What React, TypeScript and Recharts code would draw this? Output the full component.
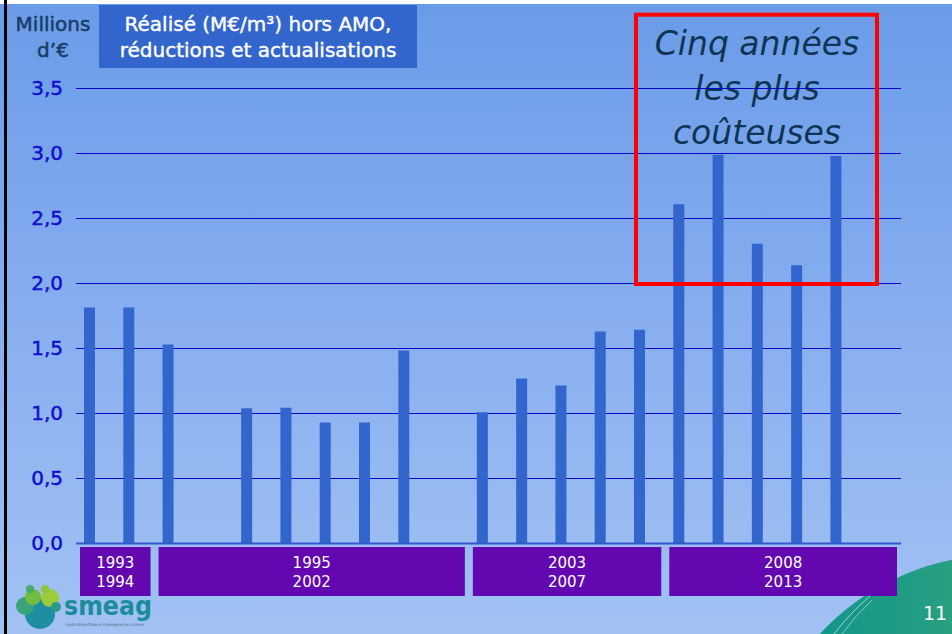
import React from 'react';
import { BarChart, Bar, XAxis, YAxis, CartesianGrid } from 'recharts';

const years = ['1993', '1994', '1995', '1996', '1997', '1998', '1999', '2000', '2001', '2002', '2003', '2004', '2005', '2006', '2007', '2008', '2009', '2010', '2011', '2012', '2013'];
const costs: (number | null)[] = [1.815, 1.815, 1.53, null, 1.04, 1.045, 0.93, 0.93, 1.485, null, 1.01, 1.27, 1.215, 1.63, 1.645, 2.61, 2.99, 2.305, 2.14, 2.98, null];
const yTicks = [0, 0.5, 1, 1.5, 2, 2.5, 3, 3.5];
const groupStarts = ['1993', '1995', '2003', '2008'];
const groupEnds = ['1994', '2002', '2007', '2013'];

const data = years.map((y, i) => ({ year: y, cost: costs[i] }));

const FONT = "'DejaVu Sans', Verdana, sans-serif";

const GroupTick = (props: any) => {
  const { x, y, payload, width, visibleTicksCount } = props;
  const gi = groupStarts.indexOf(payload.value);
  if (gi < 0) return null;
  let slot = Number(width) / Number(visibleTicksCount);
  if (!isFinite(slot) || slot <= 0) slot = 825 / years.length;
  const n = years.indexOf(groupEnds[gi]) - years.indexOf(groupStarts[gi]) + 1;
  const left = x - slot / 2 + 4;
  const w = n * slot - 8;
  const cx = left + w / 2;
  return (
    <g>
      <rect x={left} y={y} width={w} height={49} fill="#6308b0" />
      <text x={cx} y={y + 21} textAnchor="middle" fill="#ffffff" fontSize={15} fontFamily={FONT}>{groupStarts[gi]}</text>
      <text x={cx} y={y + 39.5} textAnchor="middle" fill="#ffffff" fontSize={15} fontFamily={FONT}>{groupEnds[gi]}</text>
    </g>
  );
};

const YTick = (props: any) => {
  const { x, y, payload } = props;
  return (
    <text x={x} y={y} dy={6} textAnchor="end" fill="#1010cc" stroke="#1010cc" strokeWidth={0.5} fontSize={20} fontFamily={FONT}>
      {Number(payload.value).toFixed(1).replace('.', ',')}
    </text>
  );
};

export default function App() {
  return (
    <div style={{ position: 'absolute', left: 0, top: 0, width: 952, height: 634, overflow: 'hidden', fontFamily: FONT }}>
      <svg width={952} height={634} style={{ position: 'absolute', left: 0, top: 0 }}>
        <defs>
          <linearGradient id="bg" x1="0" y1="0" x2="0" y2="1">
            <stop offset="0%" stopColor="#6b9be8" />
            <stop offset="50%" stopColor="#87aef0" />
            <stop offset="100%" stopColor="#a2c2f3" />
          </linearGradient>
          <linearGradient id="arc" x1="0" y1="0" x2="1" y2="0">
            <stop offset="0%" stopColor="#08928f" />
            <stop offset="100%" stopColor="#58b36c" />
          </linearGradient>
        </defs>
        <rect x={0} y={0} width={952} height={634} fill="#ffffff" />
        <rect x={7} y={4} width={945} height={630} fill="url(#bg)" />
        <rect x={0} y={4} width={4} height={630} fill="url(#bg)" />
        <rect x={4} y={0} width={3} height={634} fill="#000000" />
        {/* title box */}
        <rect x={99} y={5} width={318} height={63} fill="#3366cc" />
        <text x={258} y={31} textAnchor="middle" fill="#ffffff" stroke="#ffffff" strokeWidth={0.4} fontSize={20} fontFamily={FONT}>Réalisé (M€/m³) hors AMO,</text>
        <text x={258} y={57} textAnchor="middle" fill="#ffffff" stroke="#ffffff" strokeWidth={0.4} fontSize={20} fontFamily={FONT}>réductions et actualisations</text>
        {/* unit label */}
        <text x={53} y={31} textAnchor="middle" fill="#173d68" stroke="#173d68" strokeWidth={0.5} fontSize={20} fontFamily={FONT}>Millions</text>
        <text x={53} y={57} textAnchor="middle" fill="#173d68" stroke="#173d68" strokeWidth={0.5} fontSize={20} fontFamily={FONT}>d’€</text>
        {/* annotation text */}
        <text x={757} y={55} textAnchor="middle" fill="#0f3556" fontSize={33} fontStyle="italic" fontFamily={FONT}>Cinq années</text>
        <text x={757} y={100} textAnchor="middle" fill="#0f3556" fontSize={33} fontStyle="italic" fontFamily={FONT}>les plus</text>
        <text x={757} y={144} textAnchor="middle" fill="#0f3556" fontSize={33} fontStyle="italic" fontFamily={FONT}>coûteuses</text>
        {/* bottom-right arc */}
        <circle cx={1000} cy={800} r={245} fill="url(#arc)" />
        <path d="M 834 634 A 240 240 0 0 1 880 588" fill="none" stroke="#d8f0f0" strokeOpacity={0.7} strokeWidth={1} />
        <path d="M 842 634 A 236 236 0 0 1 872 600" fill="none" stroke="#d8f0f0" strokeOpacity={0.6} strokeWidth={1} />
        <text x={935} y={620} textAnchor="middle" fill="#ffffff" fontSize={19} fontFamily={FONT}>11</text>
        {/* logo */}
        <g>
          <circle cx={40} cy={614} r={15} fill="#1d8fa0" />
          <circle cx={25} cy={606} r={9} fill="#3aa37a" />
          <circle cx={33} cy={597} r={8} fill="#72bd3f" />
          <circle cx={50} cy={598} r={9} fill="#9ccc3c" />
          <circle cx={30} cy={589} r={4} fill="#4aa86a" />
          <circle cx={45} cy={589} r={4} fill="#8fc43f" />
          <circle cx={56} cy={607} r={5} fill="#2a9a8c" />
          <text x={64} y={615} fill="#1b8c9c" fontSize={27} fontWeight="bold" fontFamily={FONT} textLength={88} lengthAdjust="spacingAndGlyphs">smeag</text>
          <text x={66} y={626} fill="#4a6a78" fontSize={4} fontFamily={FONT} textLength={78} lengthAdjust="spacingAndGlyphs">Syndicat Mixte d'Etudes et d'Aménagement de la Garonne</text>
        </g>
      </svg>
      <div style={{ position: 'absolute', left: 0, top: 0 }}>
        <BarChart width={952} height={634} data={data} margin={{ top: 88.5, right: 51, bottom: 30.5, left: 16 }} barSize={11} barGap={1}>
          <CartesianGrid horizontal vertical={false} stroke="#0606c8" strokeWidth={1} />
          <XAxis
            dataKey="year"
            height={60}
            interval={0}
            tickLine={false}
            tickSize={0}
            tickMargin={3.5}
            axisLine={{ stroke: '#3358cc', strokeWidth: 2 }}
            tick={<GroupTick />}
          />
          <YAxis
            width={60}
            domain={[0, 3.5]}
            ticks={yTicks}
            axisLine={false}
            tickLine={false}
            tickSize={0}
            tickMargin={13}
            tick={<YTick />}
          />
          <Bar dataKey="cost" fill="#3366cc" isAnimationActive={false} />
          <Bar dataKey="pad" fill="transparent" isAnimationActive={false} />
        </BarChart>
      </div>
      <svg width={952} height={634} style={{ position: 'absolute', left: 0, top: 0, pointerEvents: 'none' }}>
        <rect x={636} y={14.7} width={241} height={269.3} fill="none" stroke="#ff0000" strokeWidth={4} />
      </svg>
    </div>
  );
}
